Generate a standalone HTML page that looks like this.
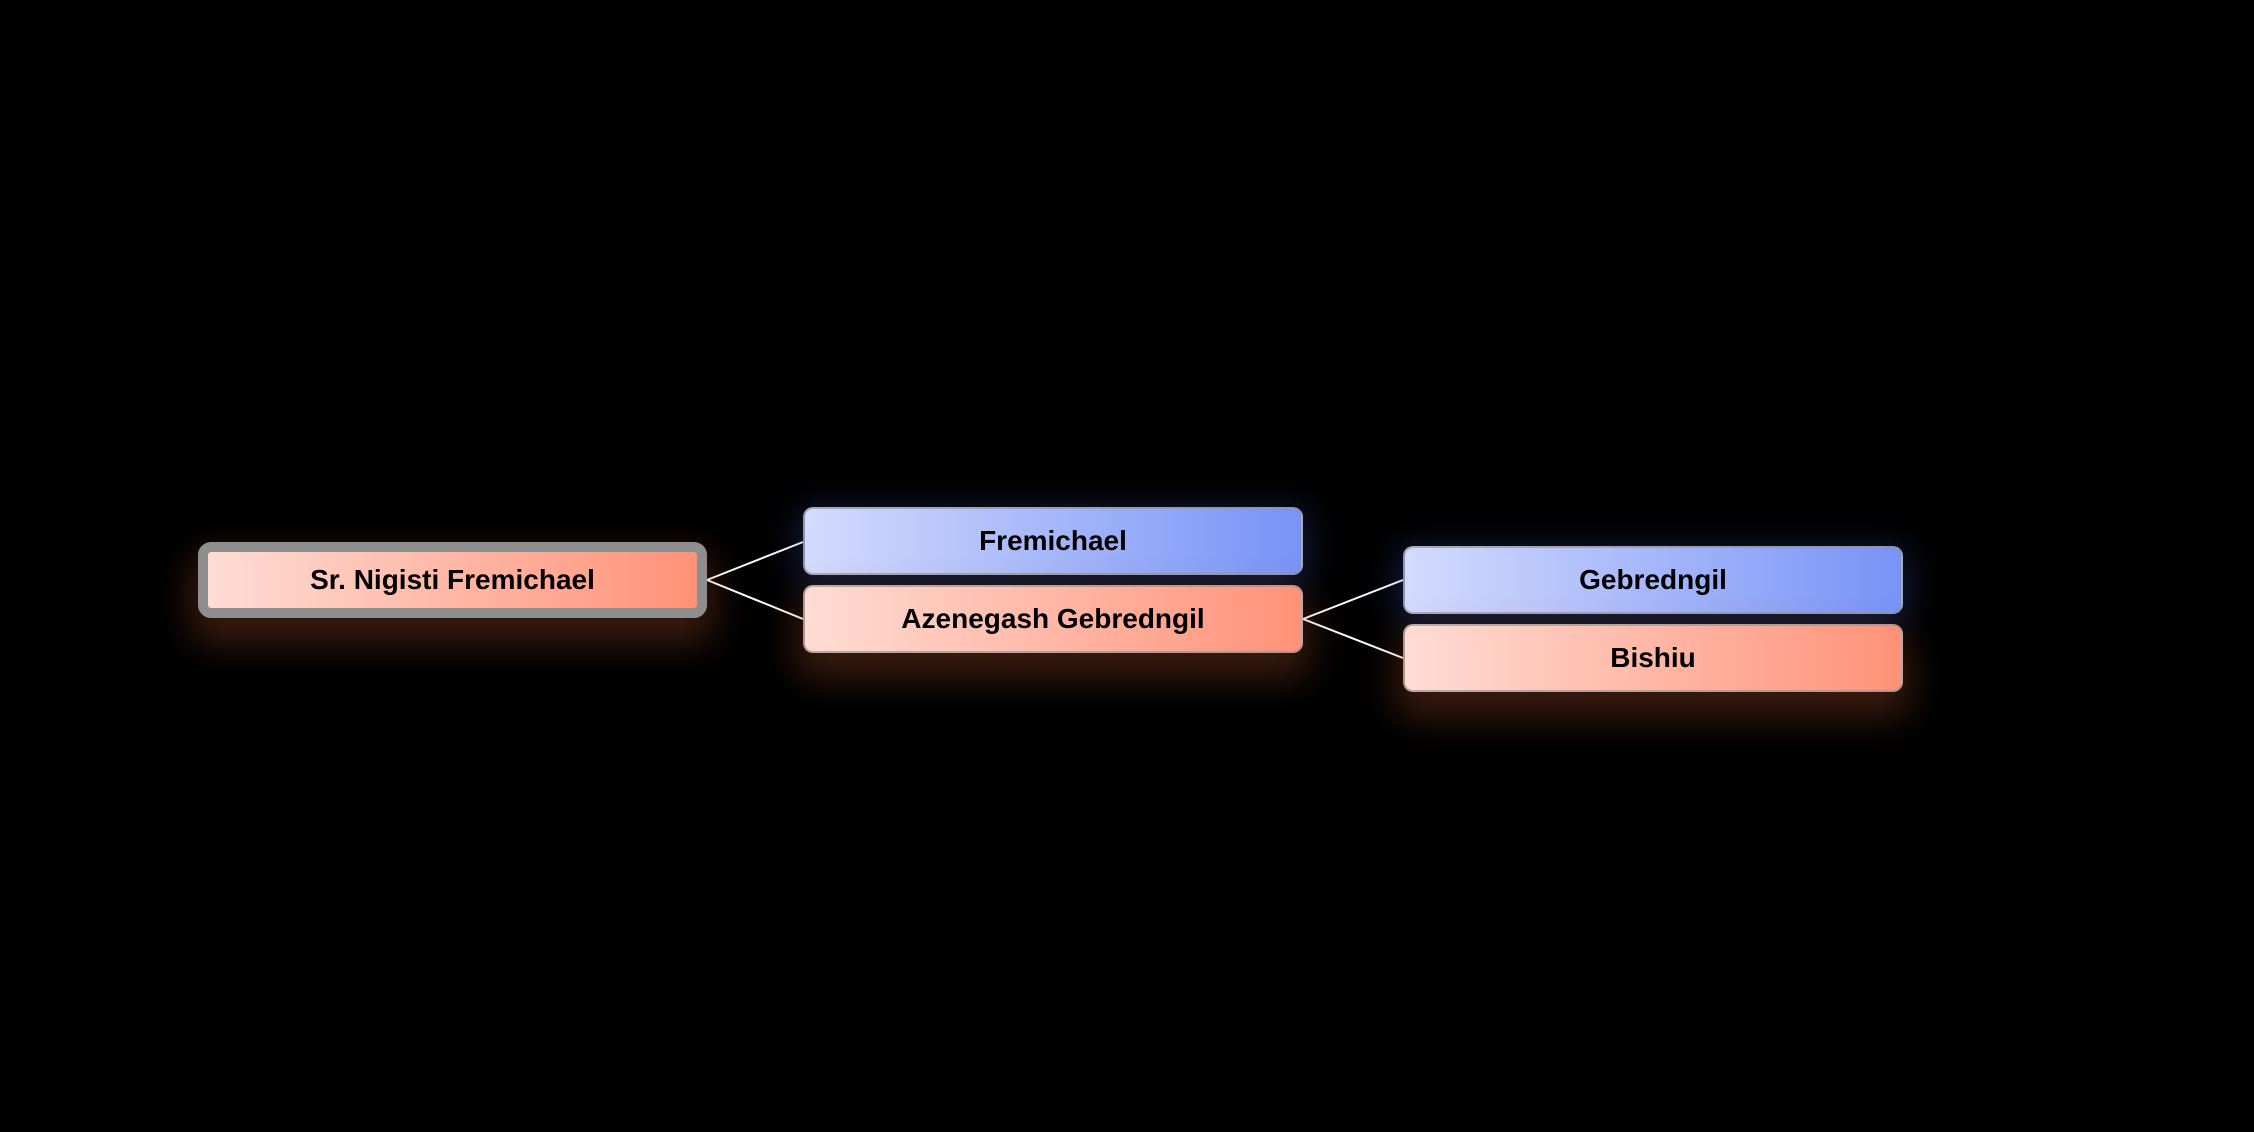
<!DOCTYPE html>
<html><head><meta charset="utf-8"><style>
html,body{margin:0;padding:0;background:#000;width:2254px;height:1132px;overflow:hidden;position:relative;font-family:"Liberation Sans",Arial,sans-serif}
.n{position:absolute;box-sizing:border-box;border-radius:10px;border:2px solid rgba(150,150,150,.7);display:flex;align-items:center;justify-content:center;font-weight:bold;font-size:28px;color:#000}
.b{background:linear-gradient(90deg,#d3dbfd,#7893f6);box-shadow:0 8px 32px 8px rgba(70,100,200,.26)}
.r{background:linear-gradient(90deg,#ffdcd4,#ff9278);box-shadow:0 18px 36px 8px rgba(190,90,50,.30)}
</style></head><body>
<svg width="2254" height="1132" style="position:absolute;left:0;top:0">
<g stroke="#fff" stroke-width="2" fill="none">
<line x1="707" y1="580" x2="803" y2="542"/>
<line x1="707" y1="580" x2="803" y2="619"/>
<line x1="1303" y1="619" x2="1403" y2="580"/>
<line x1="1303" y1="619" x2="1403" y2="658"/>
</g></svg>
<div class="n r" style="left:198px;top:542px;width:509px;height:76px;border:10px solid #8e8e8e;border-radius:13px">Sr. Nigisti Fremichael</div>
<div class="n b" style="left:803px;top:507px;width:500px;height:68px">Fremichael</div>
<div class="n r" style="left:803px;top:585px;width:500px;height:68px">Azenegash Gebredngil</div>
<div class="n b" style="left:1403px;top:546px;width:500px;height:68px">Gebredngil</div>
<div class="n r" style="left:1403px;top:624px;width:500px;height:68px">Bishiu</div>
</body></html>
